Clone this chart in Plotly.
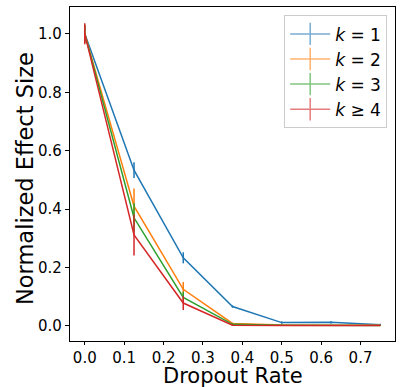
import plotly.graph_objects as go

dropout = [0.0, 0.125, 0.25, 0.375, 0.5, 0.625, 0.75]
labels = ["<i>k</i> = 1", "<i>k</i> = 2", "<i>k</i> = 3", "<i>k</i> ≥ 4"]
colors = ["#1f77b4", "#ff7f0e", "#2ca02c", "#d62728"]
means = [
    [1.0, 0.533, 0.233, 0.066, 0.011, 0.012, 0.004],
    [1.0, 0.41, 0.125, 0.008, 0.003, 0.002, 0.002],
    [1.0, 0.37, 0.097, 0.005, 0.002, 0.001, 0.001],
    [1.0, 0.311, 0.078, 0.002, 0.001, 0.001, 0.001],
]
errors = [
    [0.03, 0.027, 0.019, 0.004, 0.004, 0.004, 0.003],
    [0.03, 0.06, 0.025, 0.003, 0.002, 0.002, 0.002],
    [0.03, 0.05, 0.02, 0.003, 0.002, 0.002, 0.002],
    [0.036, 0.07, 0.024, 0.002, 0.001, 0.001, 0.001],
]
x_title = "Dropout Rate"
y_title = "Normalized Effect Size"

fig = go.Figure()
for lab, col, m, e in zip(labels, colors, means, errors):
    fig.add_trace(go.Scatter(
        x=dropout, y=m, mode="lines", line=dict(color=col, width=1.5),
        error_y=dict(type="data", array=e, visible=True, width=0, thickness=1.5, color=col),
        showlegend=False,
    ))
    fig.add_trace(go.Scatter(
        x=[None], y=[None], mode="lines+markers", name=lab,
        line=dict(color=col, width=1.5),
        marker=dict(symbol="line-ns-open", size=16, color=col, line=dict(width=1.5, color=col)),
        opacity=0.6,
    ))

font = "DejaVu Sans"
fig.update_layout(
    width=403, height=387,
    margin=dict(l=70, r=8, t=7, b=46),
    plot_bgcolor="white", paper_bgcolor="white",
    font=dict(family=font, size=15, color="black"),
    legend=dict(x=0.976, y=0.975, xanchor="right", yanchor="top",
                bordercolor="#cccccc", borderwidth=1, bgcolor="white",
                font=dict(size=17), tracegroupgap=0, itemwidth=40),
    xaxis=dict(range=[-0.0375, 0.7875], tickvals=[0, 0.1, 0.2, 0.3, 0.4, 0.5, 0.6, 0.7],
               ticktext=["0.0", "0.1", "0.2", "0.3", "0.4", "0.5", "0.6", "0.7"],
               showgrid=False, zeroline=False, showline=True, linecolor="black", linewidth=1.2,
               mirror=True, ticks="outside", ticklen=3, tickcolor="black", automargin=False),
    yaxis=dict(range=[-0.052, 1.092], tickvals=[0, 0.2, 0.4, 0.6, 0.8, 1.0],
               ticktext=["0.0", "0.2", "0.4", "0.6", "0.8", "1.0"],
               showgrid=False, zeroline=False, showline=True, linecolor="black", linewidth=1.2,
               mirror=True, ticks="outside", ticklen=4, tickcolor="black", automargin=False),
    annotations=[
        dict(text=x_title, xref="paper", yref="paper", x=0.5, y=0, xanchor="center",
             yanchor="middle", yshift=-35, showarrow=False, font=dict(size=21)),
        dict(text=y_title, xref="paper", yref="paper", x=0, y=0.485, xanchor="center",
             yanchor="middle", xshift=-45, textangle=-90, showarrow=False, font=dict(size=22.5)),
    ],
)
fig.write_html("out.html")
